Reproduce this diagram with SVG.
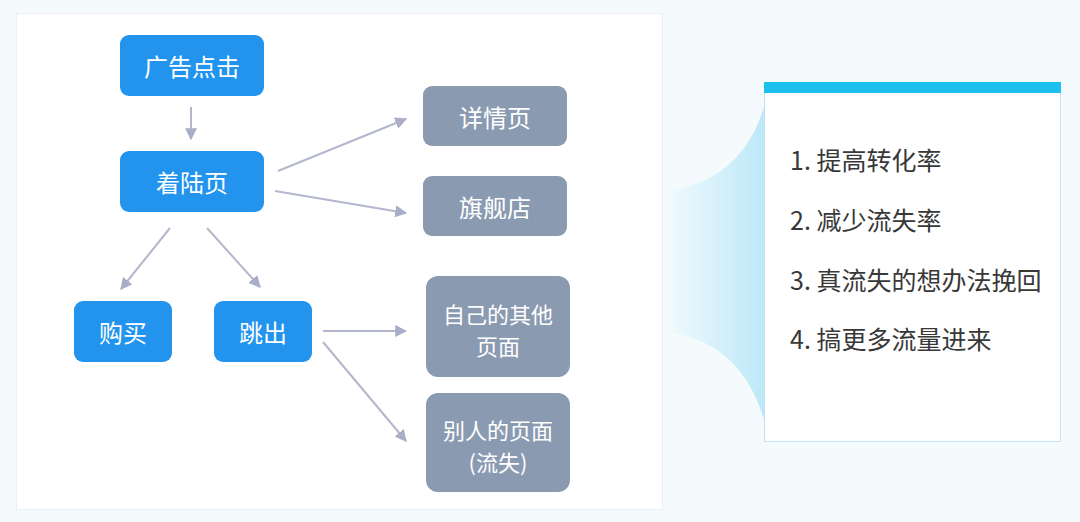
<svg xmlns="http://www.w3.org/2000/svg" width="1080" height="522" viewBox="0 0 1080 522">
<defs>
<style>
.blue{fill:#2394ee}
.gray{fill:#8a9bb1}
.nt{font-family:"Noto Sans CJK SC","Noto Sans",sans-serif;font-size:24px;fill:#fff;text-anchor:middle;dominant-baseline:central}
.nt2{font-size:22px}
.lt{font-family:"Noto Sans CJK SC","Noto Sans",sans-serif;font-size:25px;fill:#383838;dominant-baseline:central}
.con{stroke:#b3b7cb;stroke-width:2;fill:none;marker-end:url(#ah)}
</style>
<marker id="ah" viewBox="0 0 10 10" refX="9" refY="5" markerWidth="6" markerHeight="6" orient="auto" markerUnits="strokeWidth">
<path d="M0,0 L10,5 L0,10 z" fill="#a9adc6"/>
</marker>
<linearGradient id="fun" x1="0" y1="0" x2="1" y2="0">
<stop offset="0" stop-color="#eef9fd"/>
<stop offset="1" stop-color="#bde8f7"/>
</linearGradient>
</defs>
<rect width="1080" height="522" fill="#f5fbfd"/>
<rect x="16.5" y="13.5" width="646" height="496" fill="#fff" stroke="#eaf0f3"/>
<g id="funnel">
<path d="M673,190 Q742,178 764,107 L764,420 Q742,345 673,333 Z" fill="url(#fun)"/>
</g>
<g id="card">
<rect x="764.5" y="86.5" width="296" height="355" fill="#fff" stroke="#bfe3f2"/>
<rect x="764" y="82" width="297" height="11" fill="#1ec0f0"/>
<text class="lt" x="790" y="159">1. 提高转化率</text>
<text class="lt" x="790" y="219">2. 减少流失率</text>
<text class="lt" x="790" y="279">3. 真流失的想办法挽回</text>
<text class="lt" x="790" y="338">4. 搞更多流量进来</text>
</g>
<g id="connectors">
<line class="con" x1="191" y1="107" x2="191" y2="139"/>
<line class="con" x1="170" y1="228" x2="121" y2="289"/>
<line class="con" x1="207" y1="228" x2="260" y2="287"/>
<line class="con" x1="278" y1="171" x2="406" y2="119"/>
<line class="con" x1="275" y1="191" x2="406" y2="213"/>
<line class="con" x1="323" y1="331" x2="406" y2="331"/>
<line class="con" x1="323" y1="342" x2="406" y2="441"/>
</g>
<g id="n1"><rect class="blue" x="120" y="35" width="144" height="61" rx="9"/><text class="nt" x="192" y="65">广告点击</text></g>
<g id="n2"><rect class="blue" x="120" y="151" width="144" height="61" rx="9"/><text class="nt" x="192" y="181">着陆页</text></g>
<g id="n3"><rect class="blue" x="74" y="301" width="98" height="61" rx="9"/><text class="nt" x="123" y="331">购买</text></g>
<g id="n4"><rect class="blue" x="214" y="301" width="98" height="61" rx="9"/><text class="nt" x="263" y="331">跳出</text></g>
<g id="n5"><rect class="gray" x="423" y="86" width="144" height="60" rx="9"/><text class="nt" x="495" y="116">详情页</text></g>
<g id="n6"><rect class="gray" x="423" y="176" width="144" height="60" rx="9"/><text class="nt" x="495" y="206">旗舰店</text></g>
<g id="n7"><rect class="gray" x="426" y="276" width="144" height="101" rx="12"/><text class="nt nt2"><tspan x="498" y="313">自己的其他</tspan><tspan x="498" y="345">页面</tspan></text></g>
<g id="n8"><rect class="gray" x="426" y="393" width="144" height="99" rx="12"/><text class="nt nt2"><tspan x="498" y="429">别人的页面</tspan><tspan x="498" y="461">(流失)</tspan></text></g>
</svg>
